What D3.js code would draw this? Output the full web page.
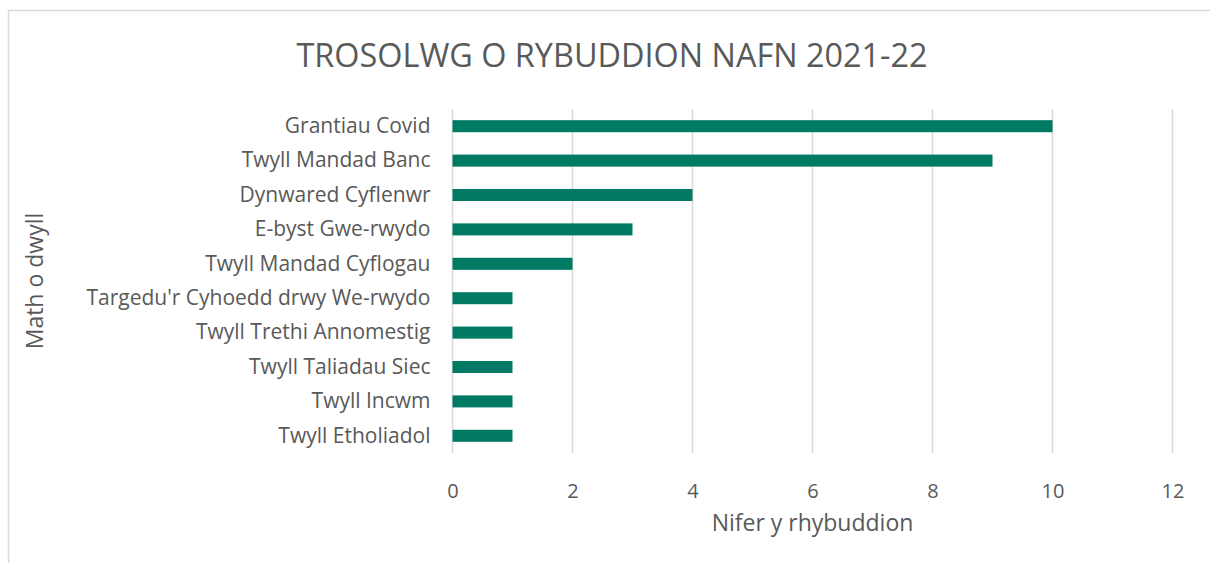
<!DOCTYPE html>
<html>
<head>
<meta charset="utf-8">
<script src="https://cdn.jsdelivr.net/npm/d3@7"></script>
<style>
  html, body { margin: 0; padding: 0; background: #fff; }
  svg { display: block; font-family: 'Open Sans', sans-serif; }
</style>
</head>
<body>
<svg id="chart" width="1210" height="563"></svg>
<script>
'use strict';

// categories, top to bottom
const categories = [
  'Grantiau Covid',
  'Twyll Mandad Banc',
  'Dynwared Cyflenwr',
  'E-byst Gwe-rwydo',
  'Twyll Mandad Cyflogau',
  "Targedu'r Cyhoedd drwy We-rwydo",
  'Twyll Trethi Annomestig',
  'Twyll Taliadau Siec',
  'Twyll Incwm',
  'Twyll Etholiadol'
];
const counts = [10, 9, 4, 3, 2, 1, 1, 1, 1, 1];
const xTicks = [0, 2, 4, 6, 8, 10, 12];

const title  = 'TROSOLWG O RYBUDDION NAFN 2021-22',
      xTitle = 'Nifer y rhybuddion',
      yTitle = 'Math o dwyll';

const W = 1210, H = 563;
const margin = { top: 109, right: 37.5, bottom: 110, left: 452.5 };
const textColor = '#595959',
      gridColor = '#d9d9d9',
      barColor  = '#017a63';

const svg = d3.select('#chart');

// chart border
svg.append('rect')
    .attr('x', 8.5).attr('y', 10.5)
    .attr('width', W).attr('height', H)
    .attr('fill', 'none')
    .attr('stroke', gridColor)
    .attr('stroke-width', 1.5);

const x = d3.scaleLinear()
    .domain([0, 12])
    .range([margin.left, W - margin.right]);

const y = d3.scaleBand()
    .domain(categories)
    .range([margin.top, H - margin.bottom])
    .paddingInner(0.65)
    .paddingOuter(0.325);

// gridlines
svg.append('g')
    .attr('class', 'grid')
  .selectAll('line')
    .data(xTicks)
  .enter().append('line')
    .attr('x1', d => x(d)).attr('x2', d => x(d))
    .attr('y1', margin.top).attr('y2', H - margin.bottom)
    .attr('stroke', gridColor)
    .attr('stroke-width', 1.5);

// bars
svg.append('g')
    .attr('class', 'bars')
  .selectAll('rect')
    .data(categories)
  .enter().append('rect')
    .attr('x', x(0))
    .attr('y', d => y(d))
    .attr('width', (d, i) => x(counts[i]) - x(0))
    .attr('height', y.bandwidth())
    .attr('fill', barColor);

// x axis
const xAxis = d3.axisBottom(x).tickValues(xTicks).tickSize(0).tickPadding(31);
svg.append('g')
    .attr('transform', `translate(0,${H - margin.bottom})`)
    .call(xAxis)
    .call(g => g.select('.domain').remove())
    .selectAll('text')
      .attr('fill', textColor)
      .style('font-size', '20px')
      .style('font-family', "'Open Sans', sans-serif");

// y axis
const yAxis = d3.axisLeft(y).tickSize(0).tickPadding(22);
svg.append('g')
    .attr('transform', `translate(${margin.left},0)`)
    .call(yAxis)
    .call(g => g.select('.domain').remove())
    .selectAll('text')
      .attr('fill', textColor)
      .style('font-size', '21px')
      .style('font-family', "'Open Sans', sans-serif");

// title
svg.append('text')
    .attr('x', 612).attr('y', 67)
    .attr('text-anchor', 'middle')
    .attr('fill', textColor)
    .style('font-size', '32.4px')
    .text(title);

// axis titles
svg.append('text')
    .attr('x', (x(0) + x(12)) / 2).attr('y', 531)
    .attr('text-anchor', 'middle')
    .attr('fill', textColor)
    .style('font-size', '23px')
    .text(xTitle);

svg.append('text')
    .attr('transform', `translate(43,${(margin.top + H - margin.bottom) / 2}) rotate(-90)`)
    .attr('text-anchor', 'middle')
    .attr('fill', textColor)
    .style('font-size', '23px')
    .text(yTitle);
</script>
</body>
</html>
